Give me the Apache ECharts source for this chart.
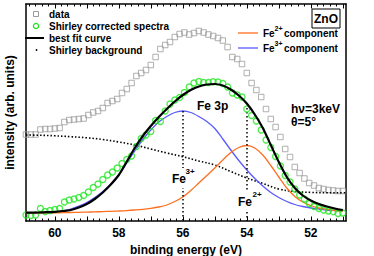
<!DOCTYPE html>
<html>
<head>
<meta charset="utf-8">
<script src="https://cdn.jsdelivr.net/npm/echarts@6/dist/echarts.min.js"></script>
<style>
html,body{margin:0;padding:0;background:#fff;}
#chart{width:374px;height:256px;}
</style>
</head>
<body>
<div id="chart"></div>
<script>
// ---- data (binding energy in eV, intensity in arb. units) ----
const energies = [60.9, 60.75, 60.6, 60.45, 60.3, 60.15, 60.0, 59.85, 59.7, 59.55, 59.4, 59.25, 59.1, 58.95, 58.8, 58.65, 58.5, 58.35, 58.2, 58.05, 57.9, 57.75, 57.6, 57.45, 57.3, 57.15, 57.0, 56.85, 56.7, 56.55, 56.4, 56.25, 56.1, 55.95, 55.8, 55.65, 55.5, 55.35, 55.2, 55.05, 54.9, 54.75, 54.6, 54.45, 54.3, 54.15, 54.0, 53.85, 53.7, 53.55, 53.4, 53.25, 53.1, 52.95, 52.8, 52.65, 52.5, 52.35, 52.2, 52.05, 51.9, 51.75, 51.6, 51.45, 51.3, 51.15, 51.0];
const rawData = [86.5, 86.5, 86.5, 91.5, 92, 92, 92.5, 93, 99, 101, 101.5, 102, 102.5, 106, 108.5, 110, 113, 118, 120, 122, 128, 132, 138, 145, 148, 151, 156, 164, 172, 176, 179, 184, 187, 188.5, 186.5, 188, 190, 188.5, 186.5, 185, 183, 180.5, 174, 164, 162, 157, 148, 138, 131, 124, 112, 102, 94, 84, 72, 64, 54, 48, 42.5, 38, 35.5, 33, 32, 31, 30.5, 30, 30];
const shirleyCorrected = [6, 5.5, 6, 12.5, 9.5, 10.5, 11.5, 12.5, 19, 21, 22, 23.5, 25.5, 29, 33.5, 37, 41.5, 46, 49, 53, 57.5, 61.5, 65, 74.5, 82.5, 86, 89.5, 100.5, 99.5, 110, 117, 121, 123.5, 128.5, 134, 138, 139.5, 138.5, 138.5, 139.3, 139, 137.5, 134, 128, 126, 124, 112, 105.5, 100, 91, 81, 73.5, 64.5, 55, 45.5, 39, 32, 26, 22, 17.5, 14.5, 12.5, 11, 10, 9.3, 7.5, 8];

const fitEnergies = [60.9, 60.5, 60.25, 60.0, 59.75, 59.5, 59.25, 59.0, 58.75, 58.5, 58.25, 58.0, 57.75, 57.5, 57.25, 57.0, 56.75, 56.5, 56.25, 56.0, 55.75, 55.5, 55.25, 55.0, 54.75, 54.5, 54.25, 54.0, 53.75, 53.5, 53.25, 53.0, 52.75, 52.5, 52.25, 52.0, 51.75, 51.5, 51.25, 51.0];
const fe3Component = [8.3, 8.4, 8.6, 9, 10.2, 12, 14.8, 18.5, 23.5, 29.5, 37, 46, 58, 70, 81.5, 91, 99, 104.5, 108.5, 110, 108.5, 104.5, 99.5, 92.5, 82, 71, 60.5, 51, 42.5, 35, 28.5, 23.5, 19.5, 16.5, 14.5, 13, 12, 11, 10.5, 10];
const fe2Component = [7.7, 7.9, 8.0, 8.2, 8.3, 8.5, 8.7, 8.9, 9.1, 9.4, 9.7, 10, 10.4, 11, 11.7, 12.7, 14, 16, 19.5, 24, 30.5, 38, 45.5, 53, 61, 68.5, 73.5, 75.5, 73, 66, 55.5, 44, 33, 24.5, 19, 15.5, 13, 11.7, 10.5, 9.7];
const bestFit = [8.3, 8.5, 8.8, 9.2, 10, 11, 13.5, 17, 22, 28.5, 36.5, 46, 59.5, 73, 85, 95, 104, 112, 119.5, 126, 131, 134.5, 136.5, 137, 135.5, 131.5, 125.5, 117.5, 106.5, 93, 76, 59, 44, 33, 25.5, 20.5, 17, 14.5, 12.5, 11];

const bgEnergies = [60.9, 60.5, 60.0, 59.5, 59.0, 58.5, 58.0, 57.5, 57.0, 56.5, 56.0, 55.5, 55.0, 54.5, 54.0, 53.5, 53.0, 52.5, 52.0, 51.5, 51.0, 50.9];
const shirleyBackground = [86, 85.8, 85.2, 84.3, 83.2, 81.5, 79, 76, 72, 68, 64.3, 60, 56, 49.5, 43, 37.5, 32, 29.5, 28.6, 28.3, 28.3, 28.3];

const peakEnergies = [56, 54];
const peakLineTops = [110, 113];

const xLabelValues = [52, 54, 56, 58, 60];
const xMajorTicks = [51, 52, 53, 54, 55, 56, 57, 58, 59, 60];
const xMinorTicks = [51.2, 51.4, 51.6, 51.8, 52.2, 52.4, 52.6, 52.8, 53.2, 53.4, 53.6, 53.8, 54.2, 54.4, 54.6, 54.8, 55.2, 55.4, 55.6, 55.8, 56.2, 56.4, 56.6, 56.8, 57.2, 57.4, 57.6, 57.8, 58.2, 58.4, 58.6, 58.8, 59.2, 59.4, 59.6, 59.8, 60.2, 60.4, 60.6, 60.8];

const X_MIN = 50.9, X_MAX = 60.9, Y_MIN = 0, Y_MAX = 217;

// ---- chart ----
const FONT = '"Liberation Sans", Arial, sans-serif';
const pairs = (xs, ys) => xs.map((x, i) => [x, ys[i]]);
const chart = echarts.init(document.getElementById('chart'), null, {renderer: 'svg'});

function xAx(position, ticks, len, withLine, withLabels) {
  return {
    type: 'value', gridIndex: 0, position: position, min: X_MIN, max: X_MAX, inverse: true,
    axisLine: {show: withLine, onZero: false, lineStyle: {color: '#000', width: 1.5}},
    axisTick: {show: true, inside: true, length: len, customValues: ticks, lineStyle: {color: '#000', width: 1}},
    axisLabel: withLabels ? {show: true, customValues: xLabelValues, color: '#000', fontFamily: FONT, fontWeight: 'bold', fontSize: 12, margin: 6} : {show: false},
    splitLine: {show: false},
    name: withLabels ? 'binding energy (eV)' : '',
    nameLocation: 'middle', nameGap: 21,
    nameTextStyle: {color: '#000', fontFamily: FONT, fontWeight: 'bold', fontSize: 12}
  };
}

const txt = (t, x, y, size, extra) => Object.assign({
  type: 'text', z: 100, x: x, y: y,
  style: {text: t, fill: '#000', font: 'bold ' + size + 'px ' + FONT, align: 'left', verticalAlign: 'middle'}
}, extra || {});

const option = {
  animation: false,
  backgroundColor: '#fff',
  grid: {left: 26, right: 28, top: 4, bottom: 35, containLabel: false, outerBoundsMode: 'none'},
  xAxis: [
    xAx('bottom', xMajorTicks, 4.5, true, true),
    xAx('bottom', xMinorTicks, 2.5, false, false),
    xAx('top', xMajorTicks, 4.5, true, false),
    xAx('top', xMinorTicks, 2.5, false, false)
  ],
  yAxis: [
    {type: 'value', position: 'left', min: Y_MIN, max: Y_MAX,
     axisLine: {show: true, lineStyle: {color: '#000', width: 1.5}},
     axisTick: {show: false}, axisLabel: {show: false}, splitLine: {show: false},
     name: 'intensity (arb. units)', nameLocation: 'middle', nameGap: 10, nameRotate: 90,
     nameTextStyle: {color: '#000', fontFamily: FONT, fontWeight: 'bold', fontSize: 12}},
    {type: 'value', position: 'right', min: Y_MIN, max: Y_MAX,
     axisLine: {show: true, lineStyle: {color: '#000', width: 1.5}},
     axisTick: {show: false}, axisLabel: {show: false}, splitLine: {show: false}}
  ],
  series: [
    {name: 'data', type: 'scatter', data: pairs(energies, rawData),
     symbol: 'rect', symbolSize: 5.5, itemStyle: {color: 'rgba(0,0,0,0)', borderColor: '#9b9b9b', borderWidth: 1}, z: 2},
    {name: 'Shirley background', type: 'line', data: pairs(bgEnergies, shirleyBackground), smooth: 0.4,
     showSymbol: false, symbol: 'none', lineStyle: {color: '#000', width: 1.6, type: [1.5, 2]}, z: 3},
    {name: 'Fe3+ component', type: 'line', data: pairs(fitEnergies, fe3Component), smooth: 0.3,
     symbol: 'none', lineStyle: {color: '#5a5aff', width: 1.3}, z: 4},
    {name: 'Fe2+ component', type: 'line', data: pairs(fitEnergies, fe2Component), smooth: 0.3,
     symbol: 'none', lineStyle: {color: '#ff6f1f', width: 1.3}, z: 4},
    {name: 'Shirley corrected spectra', type: 'scatter', data: pairs(energies, shirleyCorrected),
     symbol: 'circle', symbolSize: 6, itemStyle: {color: 'rgba(0,0,0,0)', borderColor: '#1ee61e', borderWidth: 1.3}, z: 5},
    {name: 'best fit curve', type: 'line', data: pairs(fitEnergies, bestFit), smooth: 0.3,
     symbol: 'none', lineStyle: {color: '#000', width: 2.2}, z: 6,
     markLine: {silent: true, symbol: ['none', 'none'], label: {show: false},
       lineStyle: {color: '#000', width: 1.5, type: [1.5, 2.5]},
       data: peakEnergies.map((e, i) => [{coord: [e, peakLineTops[i]]}, {coord: [e, Y_MIN]}])}}
  ],
  graphic: [
    // left legend
    {type: 'rect', z: 100, shape: {x: 33.5, y: 11.5, width: 5, height: 5}, style: {fill: 'none', stroke: '#9b9b9b', lineWidth: 1}},
    txt('data', 49, 14, 10),
    {type: 'circle', z: 100, shape: {cx: 36, cy: 26, r: 2.6}, style: {fill: 'none', stroke: '#1ee61e', lineWidth: 1.3}},
    txt('Shirley corrected spectra', 49, 26, 10),
    {type: 'line', z: 100, shape: {x1: 25, y1: 38, x2: 44, y2: 38}, style: {stroke: '#000', lineWidth: 2}},
    txt('best fit curve', 49, 38, 10),
    {type: 'circle', z: 100, shape: {cx: 36.5, cy: 50, r: 0.9}, style: {fill: '#000'}},
    txt('Shirley background', 49, 50, 10),
    // right legend
    {type: 'line', z: 100, shape: {x1: 238, y1: 33, x2: 258, y2: 33}, style: {stroke: '#ff6f1f', lineWidth: 1.3}},
    txt('Fe', 263, 33, 10), txt('2+', 274.5, 28.5, 7), txt('component', 284, 33, 10),
    {type: 'line', z: 100, shape: {x1: 238, y1: 48, x2: 258, y2: 48}, style: {stroke: '#5a5aff', lineWidth: 1.3}},
    txt('Fe', 263, 48, 10), txt('3+', 274.5, 43.5, 7), txt('component', 284, 48, 10),
    // ZnO box
    {type: 'rect', z: 100, shape: {x: 312, y: 9, width: 28, height: 19}, style: {fill: '#fff', stroke: '#000', lineWidth: 1}},
    txt('ZnO', 326, 18.5, 12, {style: {text: 'ZnO', fill: '#000', font: 'bold 12px ' + FONT, align: 'center', verticalAlign: 'middle'}}),
    // annotations
    txt('Fe 3p', 197, 106, 12),
    txt('hν=3keV', 291, 109, 12),
    txt('θ=5°', 291, 122, 12),
    {type: 'rect', z: 99, shape: {x: 180, y: 168, width: 6, height: 20}, style: {fill: '#fff'}},
    txt('Fe', 172, 179, 12), txt('3+', 185.5, 171, 8),
    {type: 'rect', z: 99, shape: {x: 243.5, y: 192, width: 6, height: 18}, style: {fill: '#fff'}},
    txt('Fe', 238, 202, 12), txt('2+', 252.5, 194.5, 8)
  ]
};
chart.setOption(option);
</script>
</body>
</html>
